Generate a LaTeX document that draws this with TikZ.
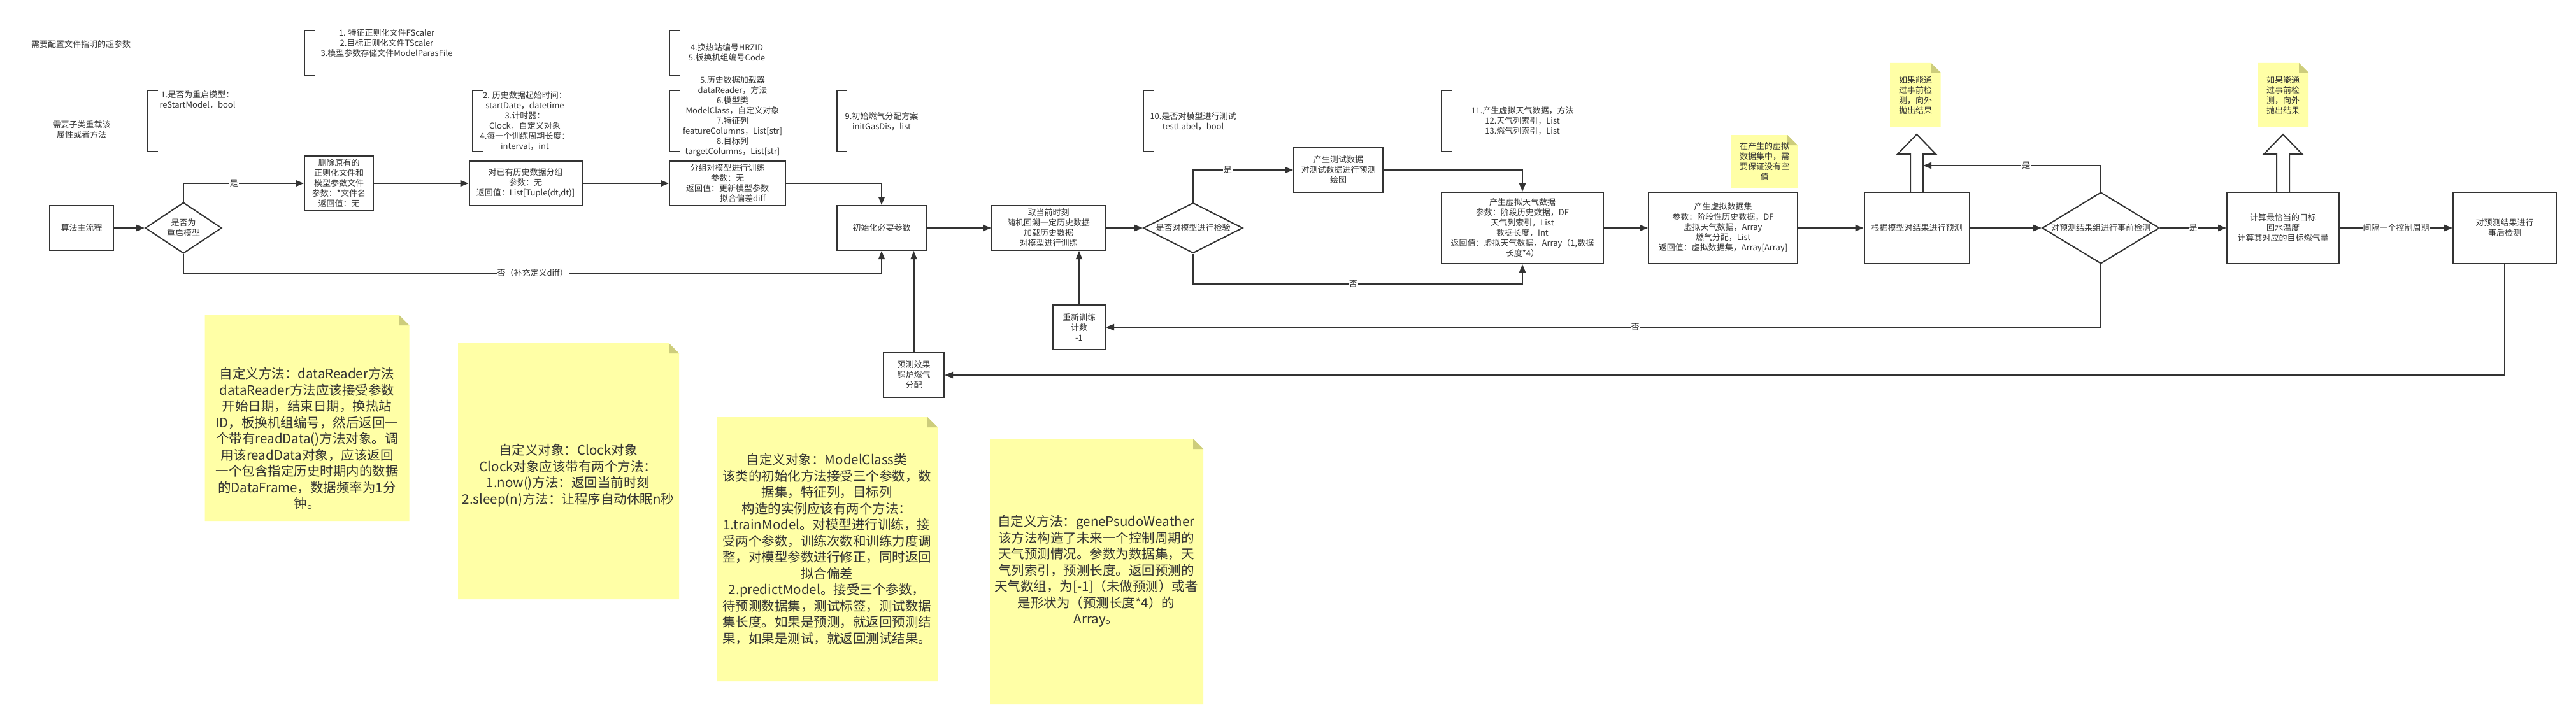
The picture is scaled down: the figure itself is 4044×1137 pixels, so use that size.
\documentclass[tikz,border=0pt]{standalone}
\usepackage{fontspec}
\setmainfont{Noto Sans CJK SC}
\usetikzlibrary{arrows.meta,shapes.geometric,calc}
\definecolor{ink}{HTML}{333333}
\definecolor{notey}{HTML}{FFFFA6}
\definecolor{foldy}{HTML}{CDCD7C}
\newcommand\mynotebg[5]{%
  \fill[notey] (#1,#2) -- (#3-#5,#2) -- (#3,#2+#5) -- (#3,#4) -- (#1,#4) -- cycle;
  \fill[foldy] (#3-#5,#2) -- (#3-#5,#2+#5) -- (#3,#2+#5) -- cycle;}
\newcommand\mybracket[3]{%
  \draw[brk] (#1+16,#2) -- (#1,#2) -- (#1,#3) -- (#1+16,#3);}
\tikzset{
  every node/.style={text=ink, font=\fontsize{13}{16}\selectfont, inner sep=0pt},
  box/.style={draw=ink, line width=2pt, fill=white, rectangle, align=center},
  dia/.style={draw=ink, line width=2pt, fill=white, diamond, align=center},
  conn/.style={draw=ink, line width=2pt},
  arr/.style={conn, -{Triangle[length=13pt,width=10pt]}},
  lbl/.style={fill=white, inner sep=1pt},
  brk/.style={draw=ink, line width=2pt},
  txt/.style={align=center},
  ntxt/.style={align=center, font=\fontsize{20.5}{25.5}\selectfont},
  hollow/.style={draw=ink, line width=2pt, fill=white, line join=miter}
}
\begin{document}
\begin{tikzpicture}[x=1pt,y=-1pt]
\fill[white] (0,0) rectangle (4044,1137);
\useasboundingbox (0,0) rectangle (4044,1137);

% notes backgrounds
\mynotebg{321.7}{495}{642.7}{818}{16}
\mynotebg{719}{539}{1066}{941}{16}
\mynotebg{1125}{655}{1472}{1070}{16}
\mynotebg{1554}{689}{1889}{1106}{16}
\mynotebg{2967}{99}{3046.5}{199}{15}
\mynotebg{3544}{99}{3624}{199}{15}
\mynotebg{2718}{212}{2822}{295}{16}

% note texts
\node[ntxt] (nA) at (482,689) {自定义方法：dataReader方法\\dataReader方法应该接受参数\\开始日期，结束日期，换热站\\ID，板换机组编号，然后返回一\\个带有readData()方法对象。调\\用该readData对象，应该返回\\一个包含指定历史时期内的数据\\的DataFrame，数据频率为1分\\钟。};
\node[ntxt] (nB) at (892,746.5) {自定义对象：Clock对象\\Clock对象应该带有两个方法：\\1.now()方法：返回当前时刻\\2.sleep(n)方法：让程序自动休眠n秒};
\node[ntxt] (nC) at (1298,862.5) {自定义对象：ModelClass类\\该类的初始化方法接受三个参数，数\\据集，特征列，目标列\\构造的实例应该有两个方法：\\1.trainModel。对模型进行训练，接\\受两个参数，训练次数和训练力度调\\整，对模型参数进行修正，同时返回\\拟合偏差\\2.predictModel。接受三个参数，\\待预测数据集，测试标签，测试数据\\集长度。如果是预测，就返回预测结\\果，如果是测试，就返回测试结果。};
\node[ntxt] (nD) at (1721,897) {自定义方法：genePsudoWeather\\该方法构造了未来一个控制周期的\\天气预测情况。参数为数据集，天\\气列索引，预测长度。返回预测的\\天气数组，为[-1]（未做预测）或者\\是形状为（预测长度*4）的\\Array。};
\node[txt] (n1) at (3007,149.5) {如果能通\\过事前检\\测，向外\\抛出结果};
\node[txt] (n2) at (3584,149.5) {如果能通\\过事前检\\测，向外\\抛出结果};
\node[txt] (n3) at (2770,254) {在产生的虚拟\\数据集中，需\\要保证没有空\\值};

% free texts
\node[txt] (t1) at (127,70) {需要配置文件指明的超参数};
\node[txt] (t2) at (128,204) {需要子类重载该\\属性或者方法};

% brackets
\mybracket{232}{142}{238}
\mybracket{478}{48}{119}
\mybracket{742}{142}{238}
\mybracket{1051}{48}{118}
\mybracket{1051}{142}{238}
\mybracket{1314}{142}{238}
\mybracket{1795}{142}{238}
\mybracket{2263}{142}{238}
\node[txt, anchor=north] (bA) at (310,142) {1.是否为重启模型：\\reStartModel，bool};
\node[txt, anchor=north] (bB) at (607,45) {1. 特征正则化文件FScaler\\2.目标正则化文件TScaler\\3.模型参数存储文件ModelParasFile};
\node[txt, anchor=north] (bC) at (824,143) {2. 历史数据起始时间：\\startDate，datetime\\3.计时器：\\Clock，自定义对象\\4.每一个训练周期长度：\\interval，int};
\node[txt] (bD) at (1141,83) {4.换热站编号HRZID\\5.板换机组编号Code};
\node[txt] (bE) at (1150,182.5) {5.历史数据加载器\\dataReader，方法\\6.模型类\\ModelClass，自定义对象\\7.特征列\\featureColumns，List[str]\\8.目标列\\targetColumns，List[str]};
\node[txt] (bF) at (1384,191) {9.初始燃气分配方案\\initGasDis，list};
\node[txt] (bG) at (1873,190.5) {10.是否对模型进行测试\\testLabel，bool};
\node[txt] (bH) at (2390,190) {11.产生虚拟天气数据，方法\\12.天气列索引，List\\13.燃气列索引，List};

% main flow nodes
\node[box, minimum width=100pt, minimum height=70pt] (main) at (128,358) {算法主流程};
\node[dia, minimum width=120pt, minimum height=80pt, aspect=1.5] (d1) at (288,358) {是否为\\重启模型};
\node[box, minimum width=108pt, minimum height=86pt] (del) at (532,288) {删除原有的\\正则化文件和\\模型参数文件\\参数：*文件名\\返回值：无};
\node[box, minimum width=177pt, minimum height=70pt] (old) at (825,288) {对已有历史数据分组\\参数：无\\返回值：List[Tuple(dt,dt)]};
\node[box, minimum width=182pt, minimum height=70pt] (grp) at (1142,288) {分组对模型进行训练\\参数：无\\返回值：更新模型参数\\\hspace*{48pt}拟合偏差diff};
\node[box, minimum width=140pt, minimum height=70pt] (init) at (1384,358) {初始化必要参数};
\node[box, minimum width=178pt, minimum height=70pt] (cur) at (1646,358) {取当前时刻\\随机回溯一定历史数据\\加载历史数据\\对模型进行训练};
\node[dia, minimum width=156pt, minimum height=79pt, aspect=1.97] (d2) at (1873,358) {是否对模型进行检验};
\node[box, minimum width=140pt, minimum height=70pt] (test) at (2101,267) {产生测试数据\\对测试数据进行预测\\绘图};
\node[box, minimum width=254pt, minimum height=112pt] (wea) at (2390,358) {产生虚拟天气数据\\参数：阶段历史数据，DF\\天气列索引，List\\数据长度，Int\\返回值：虚拟天气数据，Array（1,数据\\长度*4）};
\node[box, minimum width=234pt, minimum height=112pt] (set) at (2705,358) {产生虚拟数据集\\参数：阶段性历史数据，DF\\虚拟天气数据，Array\\燃气分配，List\\返回值：虚拟数据集，Array[Array]};
\node[box, minimum width=165pt, minimum height=112pt] (pred) at (3009,358) {根据模型对结果进行预测};
\node[dia, minimum width=184pt, minimum height=112pt, aspect=1.64] (d3) at (3298,358) {对预测结果组进行事前检测};
\node[box, minimum width=176pt, minimum height=112pt] (calc) at (3584,358) {计算最恰当的目标\\回水温度\\计算其对应的目标燃气量};
\node[box, minimum width=162pt, minimum height=112pt] (post) at (3932,358) {对预测结果进行\\事后检测};
\node[box, minimum width=82pt, minimum height=70pt] (retr) at (1694,514) {重新训练\\计数\\-1};
\node[box, minimum width=95pt, minimum height=70pt] (eff) at (1434.5,589) {预测效果\\锅炉燃气\\分配};

% hollow up arrows
\draw[hollow] ($(pred.north)+(-10,0)$) -- ($(pred.north)+(-10,-59)$) -- ($(pred.north)+(-30,-59)$) -- ($(pred.north)+(0,-90)$) -- ($(pred.north)+(30,-59)$) -- ($(pred.north)+(10,-59)$) -- ($(pred.north)+(10,0)$);
\draw[hollow] ($(calc.north)+(-10,0)$) -- ($(calc.north)+(-10,-59)$) -- ($(calc.north)+(-30,-59)$) -- ($(calc.north)+(0,-90)$) -- ($(calc.north)+(30,-59)$) -- ($(calc.north)+(10,-59)$) -- ($(calc.north)+(10,0)$);
\coordinate (pu) at ($(pred.north)+(10,-41)$);

% connectors
\draw[arr] (main) -- (d1);
\draw[arr] (d1.north) |- node[lbl,pos=0.71]{是} (del.west);
\draw[arr] (d1.south) -- ++(0,30) -| node[lbl,pos=0.25]{否（补充定义diff）} (init.south);
\draw[arr] (del.east) -- (old.west);
\draw[arr] (old.east) -- (grp.west);
\draw[arr] (grp.east) -| (init.north);
\draw[arr] (init.east) -- (cur.west);
\draw[arr] (cur.east) -- (d2.west);
\draw[arr] (d2.north) |- node[lbl,pos=0.673]{是} (test.west);
\draw[arr] (test.east) -| (wea.north);
\draw[arr] (d2.south) -- ++(0,47) -| node[lbl,pos=0.243]{否} (wea.south);
\draw[arr] (wea.east) -- (set.west);
\draw[arr] (set.east) -- (pred.west);
\draw[arr] (pred.east) -- (d3.west);
\draw[arr] (d3.north) |- node[lbl,pos=0.71]{是} (pu);
\draw[arr] (d3.east) -- node[lbl]{是} (calc.west);
\draw[arr] (calc.east) -- node[lbl]{间隔一个控制周期} (post.west);
\draw[arr] (d3.south) |- node[lbl,pos=0.734]{否} (retr.east);
\draw[arr] (retr.north) -- (retr.north |- cur.south);
\draw[arr] (post.south) |- (eff.east);
\draw[arr] (eff.north) -- (eff.north |- init.south);
\end{tikzpicture}
\end{document}
